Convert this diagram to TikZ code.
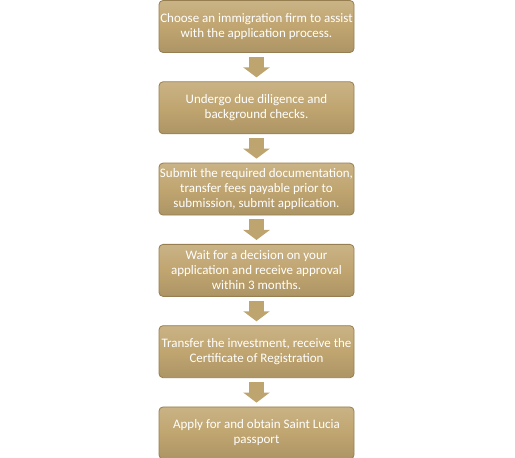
\documentclass[tikz,border=0pt]{standalone}
\usepackage{fontspec}
\setmainfont{Carlito}
\usepackage{xcolor}
\usetikzlibrary{positioning,arrows.meta}

\definecolor{tanfill}{RGB}{192,165,112}
\definecolor{tanedge}{RGB}{150,126,80}
\definecolor{tanarrow}{RGB}{190,164,110}

\tikzset{
    stepbox/.style={draw=tanedge, line width=0.8pt, rounded corners=4pt,
        top color=tanfill!85!white, bottom color=tanfill!90!black,
        middle color=tanfill, text=white, align=center,
        minimum width=195pt, minimum height=52pt, inner sep=0pt,
        font=\fontsize{13}{15}\selectfont},
    flowarrow/.style={draw=tanarrow, line width=15pt,
        -{Triangle[length=10pt,width=26pt]}, tanarrow,
        shorten <=4pt, shorten >=4pt}
}

\begin{document}
\begin{tikzpicture}[node distance=28.5pt]
    % Page size
    \useasboundingbox (0,0) rectangle (515pt,458pt);

    % Steps
    \node[stepbox] (choose) at (256.5pt,431.5pt) {Choose an immigration firm to assist\\with the application process.};
    \node[stepbox, below=of choose] (diligence) {Undergo due diligence and\\background checks.};
    \node[stepbox, below=of diligence] (submit) {Submit the required documentation,\\transfer fees payable prior to\\submission, submit application.};
    \node[stepbox, below=of submit] (wait) {Wait for a decision on your\\application and receive approval\\within 3 months.};
    \node[stepbox, below=of wait] (transfer) {Transfer the investment, receive the\\Certificate of Registration};
    \node[stepbox, below=of transfer] (passport) {Apply for and obtain Saint Lucia\\passport};

    % Arrows
    \draw[flowarrow] (choose) -- (diligence);
    \draw[flowarrow] (diligence) -- (submit);
    \draw[flowarrow] (submit) -- (wait);
    \draw[flowarrow] (wait) -- (transfer);
    \draw[flowarrow] (transfer) -- (passport);
\end{tikzpicture}
\end{document}
